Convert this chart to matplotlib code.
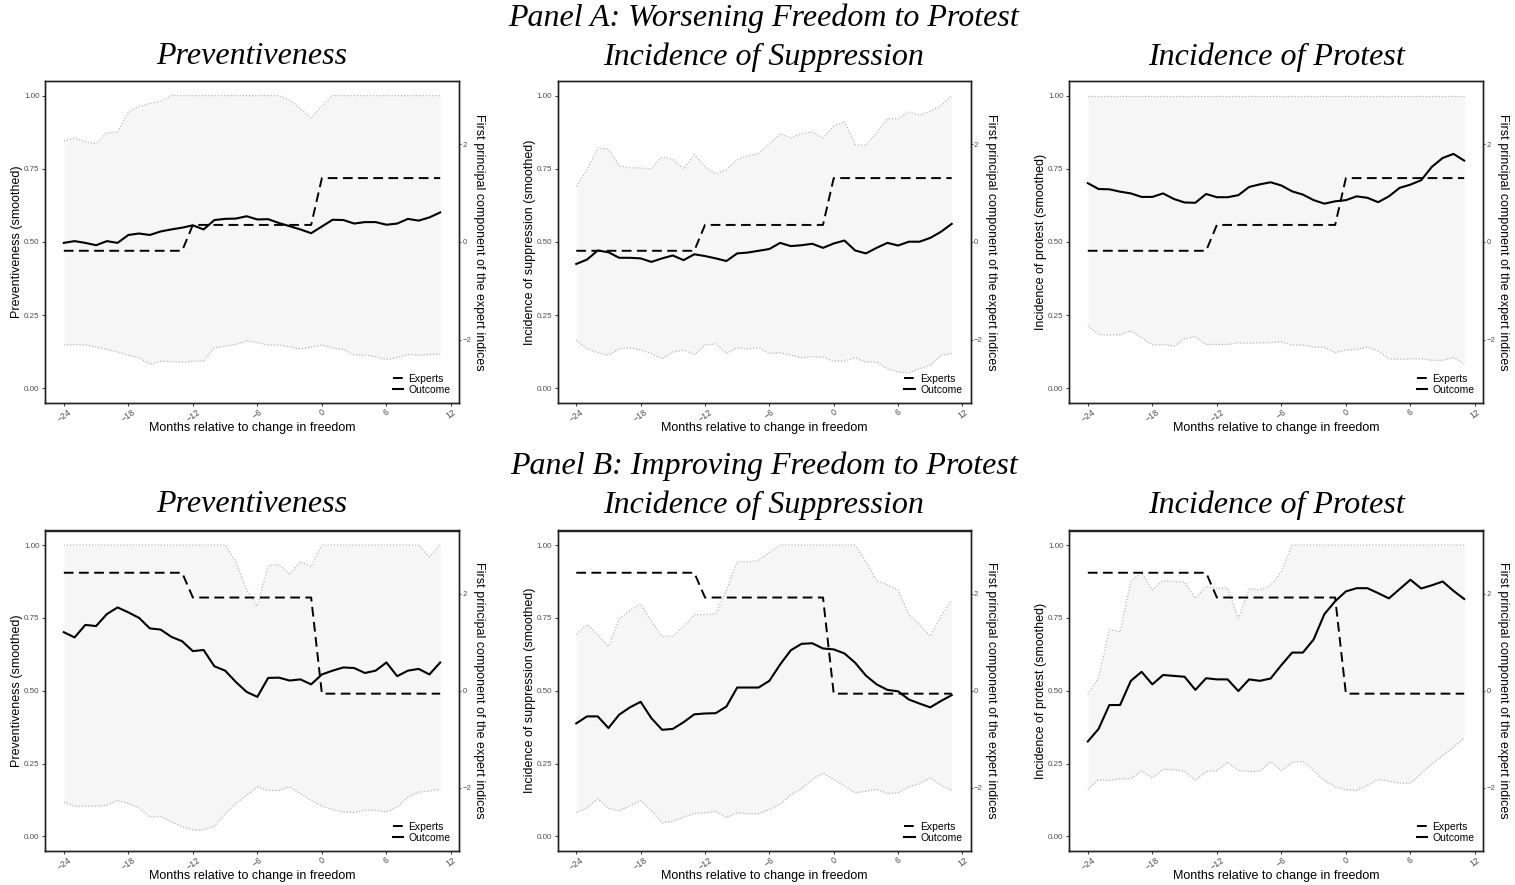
import matplotlib
matplotlib.use("Agg")
import matplotlib.pyplot as plt
from matplotlib.lines import Line2D

plt.rcParams['font.family'] = ['Liberation Sans', 'DejaVu Sans']

months = list(range(-24, 12))

# ---------------- Panel A: Worsening ----------------
experts_A = [-0.18, -0.18, -0.18, -0.18, -0.18, -0.18, -0.18, -0.18, -0.18, -0.18, -0.18, -0.18,
             0.35, 0.35, 0.35, 0.35, 0.35, 0.35, 0.35, 0.35, 0.35, 0.35, 0.35, 0.35,
             1.31, 1.31, 1.31, 1.31, 1.31, 1.31, 1.31, 1.31, 1.31, 1.31, 1.31, 1.31]

A_prev_out = [0.497, 0.503, 0.497, 0.489, 0.503, 0.497, 0.524, 0.529, 0.524, 0.536,
              0.543, 0.549, 0.557, 0.543, 0.575, 0.579, 0.580, 0.588, 0.577, 0.578,
              0.565, 0.554, 0.543, 0.530, 0.553, 0.576, 0.575, 0.563, 0.568, 0.568,
              0.559, 0.563, 0.579, 0.573, 0.584, 0.601]
A_prev_hi = [0.846, 0.855, 0.843, 0.836, 0.873, 0.875, 0.944, 0.964, 0.973, 0.981,
             1.0, 1.0, 1.0, 1.0, 1.0, 1.0, 1.0, 1.0, 1.0, 1.0,
             1.0, 0.985, 0.955, 0.924, 0.965, 1.0, 1.0, 1.0, 1.0, 1.0,
             1.0, 1.0, 1.0, 1.0, 1.0, 1.0]
A_prev_lo = [0.148, 0.150, 0.148, 0.141, 0.133, 0.124, 0.113, 0.104, 0.082, 0.093,
             0.091, 0.090, 0.093, 0.093, 0.139, 0.144, 0.150, 0.163, 0.156, 0.148,
             0.148, 0.142, 0.135, 0.141, 0.148, 0.138, 0.133, 0.114, 0.114, 0.108,
             0.099, 0.105, 0.116, 0.113, 0.116, 0.116]

A_supp_out = [0.425, 0.440, 0.471, 0.465, 0.446, 0.446, 0.444, 0.432, 0.444, 0.454,
              0.438, 0.458, 0.452, 0.444, 0.435, 0.461, 0.464, 0.470, 0.476, 0.497,
              0.486, 0.489, 0.494, 0.480, 0.495, 0.505, 0.471, 0.461, 0.480, 0.497,
              0.488, 0.501, 0.501, 0.514, 0.535, 0.562]
A_supp_hi = [0.690, 0.747, 0.821, 0.818, 0.761, 0.753, 0.753, 0.750, 0.791, 0.782,
             0.750, 0.799, 0.757, 0.733, 0.747, 0.782, 0.795, 0.802, 0.836, 0.870,
             0.856, 0.870, 0.876, 0.856, 0.895, 0.912, 0.833, 0.830, 0.873, 0.921,
             0.921, 0.944, 0.933, 0.947, 0.966, 1.0]
A_supp_lo = [0.164, 0.135, 0.122, 0.113, 0.135, 0.139, 0.131, 0.119, 0.101, 0.124,
             0.131, 0.115, 0.148, 0.152, 0.119, 0.139, 0.135, 0.139, 0.119, 0.122,
             0.113, 0.105, 0.108, 0.107, 0.093, 0.093, 0.105, 0.090, 0.090, 0.067,
             0.056, 0.053, 0.067, 0.079, 0.113, 0.119]

A_prot_out = [0.701, 0.681, 0.680, 0.672, 0.666, 0.654, 0.654, 0.666, 0.647, 0.635,
              0.634, 0.664, 0.653, 0.653, 0.660, 0.688, 0.697, 0.704, 0.693, 0.673,
              0.662, 0.643, 0.631, 0.639, 0.643, 0.656, 0.651, 0.636, 0.656, 0.685,
              0.696, 0.711, 0.757, 0.787, 0.801, 0.778]
A_prot_hi = [1.0, 1.0, 1.0, 1.0, 1.0, 1.0, 1.0, 1.0, 1.0, 1.0,
             1.0, 1.0, 1.0, 1.0, 1.0, 1.0, 1.0, 1.0, 1.0, 1.0,
             1.0, 1.0, 1.0, 1.0, 1.0, 1.0, 1.0, 1.0, 1.0, 1.0,
             1.0, 1.0, 1.0, 1.0, 1.0, 1.0]
A_prot_lo = [0.213, 0.184, 0.182, 0.184, 0.196, 0.173, 0.148, 0.150, 0.144, 0.170,
             0.176, 0.150, 0.150, 0.150, 0.156, 0.154, 0.156, 0.156, 0.159, 0.148,
             0.148, 0.141, 0.141, 0.122, 0.131, 0.133, 0.142, 0.127, 0.101, 0.099,
             0.101, 0.101, 0.096, 0.096, 0.105, 0.084]

# ---------------- Panel B: Improving ----------------
experts_B = [2.43, 2.43, 2.43, 2.43, 2.43, 2.43, 2.43, 2.43, 2.43, 2.43, 2.43, 2.43,
             1.92, 1.92, 1.92, 1.92, 1.92, 1.92, 1.92, 1.92, 1.92, 1.92, 1.92, 1.92,
             -0.06, -0.06, -0.06, -0.06, -0.06, -0.06, -0.06, -0.06, -0.06, -0.06, -0.06, -0.06]

B_prev_out = [0.701, 0.683, 0.726, 0.722, 0.763, 0.786, 0.769, 0.750, 0.714, 0.710,
              0.685, 0.670, 0.636, 0.640, 0.584, 0.569, 0.530, 0.496, 0.479, 0.544,
              0.545, 0.535, 0.539, 0.522, 0.556, 0.569, 0.580, 0.578, 0.561, 0.569,
              0.597, 0.550, 0.569, 0.575, 0.556, 0.597]
B_prev_hi = [1.0, 1.0, 1.0, 1.0, 1.0, 1.0, 1.0, 1.0, 1.0, 1.0,
             1.0, 1.0, 1.0, 1.0, 1.0, 1.0, 0.943, 0.846, 0.790, 0.929,
             0.934, 0.900, 0.943, 0.926, 1.0, 1.0, 1.0, 1.0, 1.0, 1.0,
             1.0, 1.0, 1.0, 1.0, 0.960, 1.0]
B_prev_lo = [0.118, 0.104, 0.104, 0.104, 0.107, 0.124, 0.113, 0.098, 0.067, 0.069,
             0.050, 0.033, 0.022, 0.022, 0.035, 0.078, 0.113, 0.141, 0.170, 0.158,
             0.158, 0.170, 0.147, 0.124, 0.104, 0.092, 0.084, 0.082, 0.090, 0.090,
             0.084, 0.101, 0.135, 0.152, 0.156, 0.162]

B_supp_out = [0.388, 0.412, 0.412, 0.372, 0.418, 0.443, 0.462, 0.406, 0.366, 0.369,
              0.392, 0.419, 0.422, 0.423, 0.446, 0.511, 0.511, 0.511, 0.534, 0.590,
              0.639, 0.661, 0.663, 0.645, 0.642, 0.628, 0.596, 0.552, 0.522, 0.503,
              0.498, 0.470, 0.456, 0.443, 0.465, 0.485]
B_supp_hi = [0.693, 0.727, 0.693, 0.651, 0.747, 0.775, 0.798, 0.738, 0.687, 0.687,
             0.721, 0.761, 0.761, 0.764, 0.846, 0.943, 0.943, 0.947, 0.975, 1.0,
             1.0, 1.0, 1.0, 1.0, 1.0, 1.0, 1.0, 0.943, 0.878, 0.864,
             0.846, 0.761, 0.727, 0.687, 0.755, 0.812]
B_supp_lo = [0.082, 0.098, 0.130, 0.096, 0.088, 0.105, 0.124, 0.088, 0.047, 0.052,
             0.067, 0.078, 0.081, 0.086, 0.065, 0.081, 0.078, 0.078, 0.092, 0.110,
             0.143, 0.164, 0.196, 0.217, 0.196, 0.172, 0.150, 0.155, 0.162, 0.147,
             0.150, 0.170, 0.181, 0.201, 0.175, 0.158]

B_prot_out = [0.326, 0.369, 0.451, 0.451, 0.534, 0.565, 0.522, 0.554, 0.551, 0.548,
              0.503, 0.543, 0.539, 0.539, 0.499, 0.539, 0.534, 0.542, 0.588, 0.631,
              0.631, 0.676, 0.763, 0.807, 0.841, 0.852, 0.852, 0.835, 0.817, 0.849,
              0.881, 0.851, 0.862, 0.875, 0.843, 0.815]
B_prot_hi = [0.488, 0.545, 0.710, 0.702, 0.875, 0.906, 0.846, 0.878, 0.875, 0.873,
             0.818, 0.858, 0.852, 0.852, 0.747, 0.850, 0.846, 0.861, 0.909, 1.0,
             1.0, 1.0, 1.0, 1.0, 1.0, 1.0, 1.0, 1.0, 1.0, 1.0,
             1.0, 1.0, 1.0, 1.0, 1.0, 1.0]
B_prot_lo = [0.162, 0.195, 0.192, 0.198, 0.198, 0.226, 0.200, 0.230, 0.229, 0.223,
             0.192, 0.223, 0.226, 0.255, 0.226, 0.223, 0.223, 0.257, 0.226, 0.255,
             0.258, 0.226, 0.192, 0.170, 0.160, 0.158, 0.175, 0.196, 0.190, 0.183,
             0.183, 0.215, 0.249, 0.278, 0.306, 0.337]

panel_titles = ["Panel A: Worsening Freedom to Protest", "Panel B: Improving Freedom to Protest"]
sub_titles = ["Preventiveness", "Incidence of Suppression", "Incidence of Protest"]
ylabels = ["Preventiveness (smoothed)", "Incidence of suppression (smoothed)",
           "Incidence of protest (smoothed)"]
right_label = "First principal component of the expert indices"
xlabel = "Months relative to change in freedom"
x_ticks = [-24, -18, -12, -6, 0, 6, 12]
y_ticks = [0.00, 0.25, 0.50, 0.75, 1.00]
y_ticklabels = ["0.00", "0.25", "0.50", "0.75", "1.00"]
r_ticks = [-2, 0, 2]

rows = [
    (experts_A, [(A_prev_out, A_prev_lo, A_prev_hi),
                 (A_supp_out, A_supp_lo, A_supp_hi),
                 (A_prot_out, A_prot_lo, A_prot_hi)]),
    (experts_B, [(B_prev_out, B_prev_lo, B_prev_hi),
                 (B_supp_out, B_supp_lo, B_supp_hi),
                 (B_prot_out, B_prot_lo, B_prot_hi)]),
]

W, H = 1515, 885
fig = plt.figure(figsize=(W / 100, H / 100), dpi=100)

col_px = [(45, 459), (557.5, 970.5), (1069, 1483)]
row_px = [(81, 403), (530.5, 851)]
title_y = [18, 466]
sub_y = [57, 505]

serif = dict(family=['Liberation Serif', 'DejaVu Serif'], style='italic')
tick_col = '#4d4d4d'

for ri, (experts, panels) in enumerate(rows):
    fig.text(0.5 * (45 + 1483) / W, 1 - title_y[ri] / H, panel_titles[ri],
             ha='center', va='center', fontsize=23, **serif)
    for ci, (out, lo, hi) in enumerate(panels):
        x0, x1 = col_px[ci]
        y0, y1 = row_px[ri]
        ax = fig.add_axes([x0 / W, 1 - y1 / H, (x1 - x0) / W, (y1 - y0) / H])
        fig.text((x0 + x1) / 2 / W, 1 - sub_y[ri] / H, sub_titles[ci],
                 ha='center', va='center', fontsize=23, **serif)
        ax.fill_between(months, lo, hi, color='#f6f6f6', lw=0, zorder=1)
        ax.plot(months, hi, color='#b8b8b8', lw=0.9, ls=(0, (1, 1.5)), zorder=2)
        ax.plot(months, lo, color='#b8b8b8', lw=0.9, ls=(0, (1, 1.5)), zorder=2)
        ax.plot(months, out, color='black', lw=1.5, zorder=3)
        ax.set_xlim(-25.75, 12.75)
        ax.set_ylim(-0.05, 1.05)
        ax.set_xticks(x_ticks)
        ax.set_yticks(y_ticks)
        ax.set_yticklabels(y_ticklabels)
        ax.tick_params(axis='y', labelsize=5.8, length=2.5, width=0.7,
                       colors='#333333', labelcolor=tick_col, pad=1.5)
        ax.tick_params(axis='x', labelsize=6.3, length=2.5, width=0.7,
                       colors='#333333', labelcolor=tick_col, pad=1.0)
        for lab in ax.get_xticklabels():
            lab.set_rotation(35)
            lab.set_ha('center')
        ax.set_xlabel(xlabel, fontsize=9, labelpad=-1.5)
        ax.set_ylabel(ylabels[ci], fontsize=9, labelpad=0.5)
        for s in ax.spines.values():
            s.set_color('#222222')
            s.set_linewidth(1.0)

        ax2 = ax.twinx()
        ax2.plot(months, experts, color='black', lw=1.4, ls=(0, (5, 2.8)), zorder=4)
        ax2.set_ylim(-3.3, 3.3)
        ax2.set_yticks(r_ticks)
        ax2.tick_params(axis='y', labelsize=5.5, length=1.5, width=0.6,
                        colors='#333333', labelcolor=tick_col, pad=1)
        ax2.set_ylabel(right_label, fontsize=9, rotation=270, labelpad=10)
        for s in ax2.spines.values():
            s.set_color('#222222')
            s.set_linewidth(1.0)

        handles = [Line2D([], [], color='black', lw=1.4, ls=(0, (5, 2.8))),
                   Line2D([], [], color='black', lw=1.5)]
        ax2.legend(handles, ["Experts", "Outcome"], loc='lower right', frameon=False,
                   fontsize=7.5, handlelength=1.0, handletextpad=0.5,
                   labelspacing=0.1, borderaxespad=0.4)

fig.savefig("out.png", dpi=100)
